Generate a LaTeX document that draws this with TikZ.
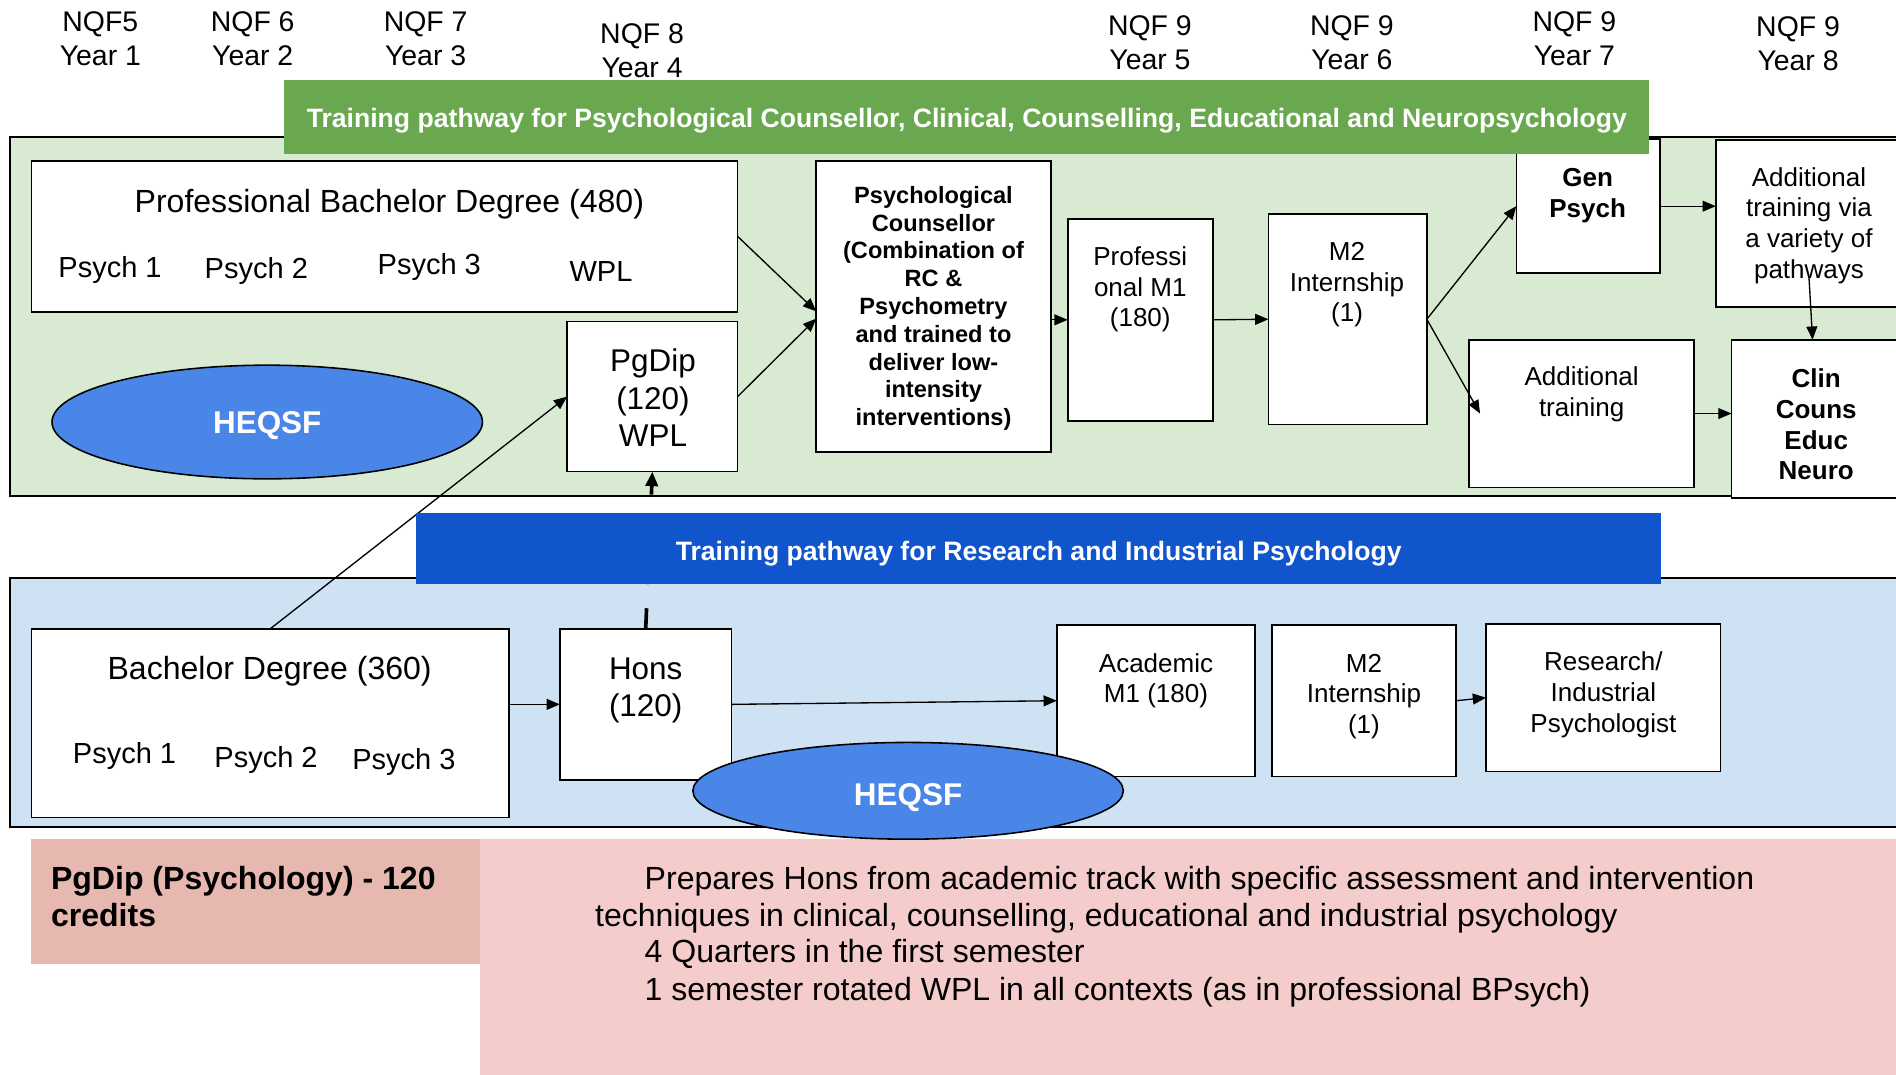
\documentclass[tikz,border=0pt]{standalone}
\usepackage{fontspec}
\setmainfont{Liberation Sans}
\usetikzlibrary{arrows.meta,shapes.geometric,calc}
\definecolor{gband}{RGB}{106,168,79}
\definecolor{gbg}{RGB}{217,234,211}
\definecolor{bband}{RGB}{17,85,204}
\definecolor{bbg}{RGB}{207,226,243}
\definecolor{heq}{RGB}{74,134,232}
\definecolor{pinkd}{RGB}{230,184,175}
\definecolor{pinkl}{RGB}{244,204,204}
\begin{document}
\begin{tikzpicture}[x=1pt,y=-1pt,
  region/.style={draw=black,line width=1.6pt,inner sep=0pt,outer sep=0pt},
  box/.style={draw=black,line width=1.3pt,fill=white,inner sep=0pt,outer sep=0pt},
  band/.style={inner sep=0pt,outer sep=0pt},
  bandtxt/.style={inner sep=0pt,text=white,font=\fontsize{22}{25}\selectfont\bfseries},
  heqsf/.style={ellipse,draw=black,line width=1.3pt,fill=heq,inner sep=0pt},
  heqtxt/.style={inner sep=0pt,text=white,font=\fontsize{26}{30}\selectfont\bfseries},
  big/.style={inner sep=0pt,align=center,yshift=-2.5pt,font=\fontsize{26.5}{31}\selectfont},
  mid/.style={inner sep=0pt,align=center,yshift=-2.5pt,font=\fontsize{24}{28}\selectfont},
  sm/.style={inner sep=0pt,align=center,yshift=-2.5pt,font=\fontsize{21.5}{25.3}\selectfont},
  smb/.style={inner sep=0pt,align=center,yshift=-2.5pt,font=\fontsize{21.5}{25.5}\selectfont\bfseries},
  nqf/.style={inner sep=0pt,align=center,font=\fontsize{23.5}{28}\selectfont},
  desc/.style={inner sep=0pt,anchor=base west,font=\fontsize{26.5}{30}\selectfont},
  conn/.style={line width=1.1pt,-{Triangle[length=11pt,width=9pt]}},
]
\useasboundingbox (0,0) rectangle (1568,889);

% regions
\node[region,fill=gbg,minimum width=1572pt,minimum height=297pt] (greg) at (794,261.5) {};
\node[region,fill=bbg,minimum width=1572pt,minimum height=206pt] (breg) at (794,581) {};

% pink boxes
\node[inner sep=0pt,fill=pinkl,minimum width=1183pt,minimum height=202pt] (pinkR) at (988.5,795) {};
\node[inner sep=0pt,fill=pinkd,minimum width=371pt,minimum height=103pt] (pinkL) at (211.5,745.5) {};
\node[desc,font=\fontsize{26.5}{30}\selectfont\bfseries] (pgl1) at (42,736) {PgDip (Psychology) - 120};
\node[desc,font=\fontsize{26.5}{30}\selectfont\bfseries] (pgl2) at (42,766) {credits};
\node[desc] (d1) at (533,736) {Prepares Hons from academic track with specific assessment and intervention};
\node[desc] (d2) at (492,766) {techniques in clinical, counselling, educational and industrial psychology};
\node[desc] (d3) at (533,796) {4 Quarters in the first semester};
\node[desc] (d4) at (533,827) {1 semester rotated WPL in all contexts (as in professional BPsych)};

% NQF labels
\node[nqf] (n1) at (83,32) {NQF5\\Year 1};
\node[nqf] (n2) at (209,32) {NQF 6\\Year 2};
\node[nqf] (n3) at (352,32) {NQF 7\\Year 3};
\node[nqf] (n4) at (531,42) {NQF 8\\Year 4};
\node[nqf] (n5) at (951,35) {NQF 9\\Year 5};
\node[nqf] (n6) at (1118,35) {NQF 9\\Year 6};
\node[nqf] (n7) at (1302,32) {NQF 9\\Year 7};
\node[nqf] (n8) at (1487,36) {NQF 9\\Year 8};

% green region boxes
\node[box,minimum width=584pt,minimum height=125pt] (prof) at (318,195.5) {};
\node[box,minimum width=141pt,minimum height=124pt] (pgdip) at (539.5,328) {};
\node[box,minimum width=194pt,minimum height=241pt] (pc) at (772,253.5) {};
\node[box,minimum width=120pt,minimum height=167pt] (pm1) at (943,264.5) {};
\node[box,minimum width=131pt,minimum height=174pt] (m2) at (1114.5,264) {};
\node[box,minimum width=119pt,minimum height=111pt] (gen) at (1313.5,170.5) {};
\node[box,minimum width=161pt,minimum height=138pt] (atv) at (1499.5,185) {};
\node[box,minimum width=186pt,minimum height=122pt] (addtr) at (1308,342) {};
\node[box,minimum width=148pt,minimum height=131pt] (clin) at (1506,346.5) {};
\node[heqsf,minimum width=356pt,minimum height=94pt] (he1) at (221,349) {};
\node[heqtxt] (he1t) at (221,352) {HEQSF};

\node[big] (proft) at (322,166) {Professional Bachelor Degree (480)};
\node[mid] (pp1) at (91,221) {Psych 1};
\node[mid] (pp2) at (212,222) {Psych 2};
\node[mid] (pp3) at (355,218) {Psych 3};
\node[mid] (pwpl) at (497,222) {WPL};
\node[big,font=\fontsize{26}{31}\selectfont] (pgdipt) at (540,326.5) {PgDip\\(120)\\WPL};
\node[inner sep=0pt,align=center,yshift=-2pt,font=\fontsize{19.5}{23}\selectfont\bfseries] (pct) at (772,253)
  {Psychological\\Counsellor\\(Combination of\\RC \&\\Psychometry\\and trained to\\deliver low-\\intensity\\interventions)};
\node[sm] (pm1t) at (943,237) {Professi\\onal M1\\(180)};
\node[sm] (m2t) at (1114,233) {M2\\Internship\\(1)};
\node[smb] (gent) at (1313,159) {Gen\\Psych};
\node[sm] (atvt) at (1496,184) {Additional\\training via\\a variety of\\pathways};
\node[sm] (addtrt) at (1308,323.5) {Additional\\training};
\node[smb] (clint) at (1502,348.5) {Clin\\Couns\\Educ\\Neuro};

% blue region boxes
\node[box,minimum width=395pt,minimum height=156pt] (bach) at (223.5,598) {};
\node[box,minimum width=142pt,minimum height=125pt] (hons) at (534,582.5) {};
\node[box,minimum width=164pt,minimum height=125pt] (acad) at (956,579.5) {};
\node[box,minimum width=152pt,minimum height=125pt] (m2b) at (1128,579.5) {};
\node[box,minimum width=194pt,minimum height=122pt] (res) at (1326,577) {};

\node[big] (bacht) at (223,553) {Bachelor Degree (360)};
\node[mid] (bp1) at (103,623) {Psych 1};
\node[mid] (bp2) at (220,626) {Psych 2};
\node[mid] (bp3) at (334,628) {Psych 3};
\node[big,font=\fontsize{26}{31}\selectfont] (honst) at (534,568.5) {Hons\\(120)};
\node[sm] (acadt) at (956,560.5) {Academic\\M1 (180)};
\node[sm] (m2bt) at (1128,573.5) {M2\\Internship\\(1)};
\node[sm] (rest) at (1326,572) {Research/\\Industrial\\Psychologist};

% connectors, green
\draw[conn] (prof.east) -- ($(pc.west)+(0,4)$);
\draw[conn] (pgdip.east) -- ($(pc.west)+(0,10)$);
\draw[conn] (pc.east |- pm1.west) -- (pm1.west);
\draw[conn] (pm1.east) -- (m2.west);
\draw[conn] (m2.east) -- (gen.west);
\draw[conn] (m2.east) -- ($(addtr.west)+(9,0)$);
\draw[conn] (gen.east) -- (gen.east -| atv.west);
\draw[conn] (addtr.east) -- (addtr.east -| clin.west);
\coordinate (atvin) at (1496,229);
\draw[conn] (atvin) -- (1499,281);

% connectors, blue
\draw[conn] (hons.west -| bach.east) -- (hons.west);
\draw[conn] (hons.east) -- (acad.west);
\draw[conn] (m2b.east) -- (res.west);

% cross connectors
\draw[conn] (bach.north) -- (pgdip.west);
\draw[line width=3pt,dash pattern=on 17pt off 20pt,-{Triangle[length=12pt,width=10pt]}] (hons.north) -- (pgdip.south);

% banners
\node[band,fill=gband,minimum width=1129pt,minimum height=61pt] (gb) at (799.5,96.5) {};
\node[bandtxt] (gbt) at (799.5,99.5) {Training pathway for Psychological Counsellor, Clinical, Counselling, Educational and Neuropsychology};
\node[band,fill=bband,minimum width=1030pt,minimum height=59pt] (bb) at (859,453.5) {};
\node[bandtxt] (bbt) at (859,457.5) {Training pathway for Research and Industrial Psychology};

\node[heqsf,minimum width=356pt,minimum height=80pt] (he2) at (751,654) {};
\node[heqtxt] (he2t) at (751,660) {HEQSF};
\end{tikzpicture}
\end{document}
